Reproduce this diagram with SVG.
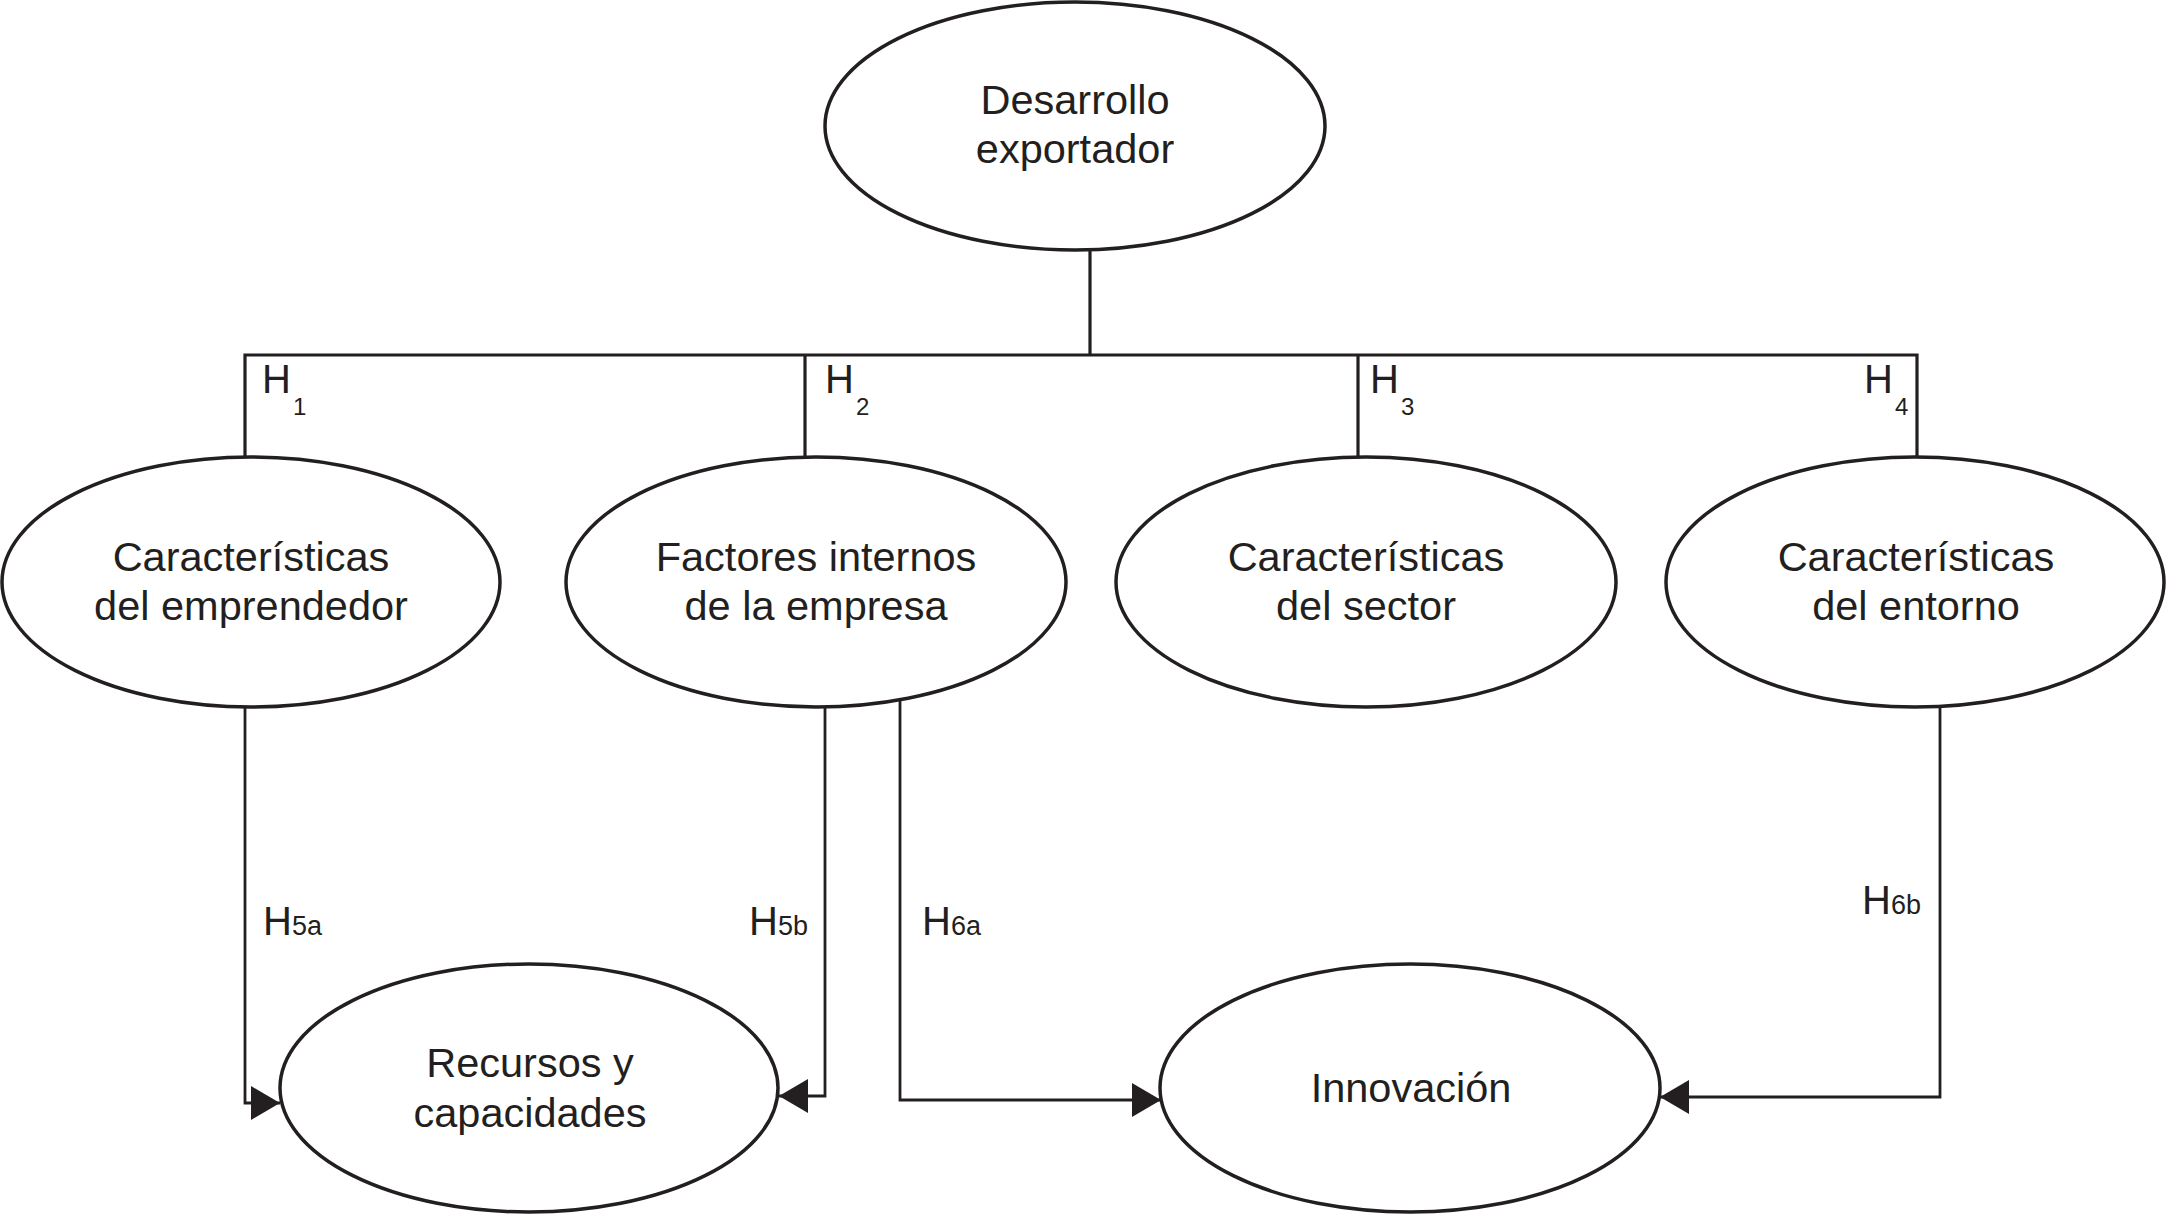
<svg xmlns="http://www.w3.org/2000/svg" width="2167" height="1215" viewBox="0 0 2167 1215">
  <style>
    .node ellipse { fill: #ffffff; stroke: #231f20; stroke-width: 3.5; }
    .node text { font-family: "Liberation Sans", Arial, Helvetica, sans-serif; font-size: 41.5px; fill: #231f20; text-anchor: middle; }
    .conn path { fill: none; stroke: #231f20; stroke-width: 3.2; }
    .conn path.arrow { stroke-width: 2.8; marker-end: url(#arrow); }
    .lbl { font-family: "Liberation Sans", Arial, Helvetica, sans-serif; font-size: 40px; fill: #231f20; }
  </style>
  <defs>
    <marker id="arrow" viewBox="0 0 29 34" refX="29" refY="17" markerWidth="29" markerHeight="34" markerUnits="userSpaceOnUse" orient="auto">
      <path d="M0,0 L29,17 L0,34 Z" fill="#231f20"/>
    </marker>
  </defs>
  <rect x="0" y="0" width="2167" height="1215" fill="#ffffff"/>

  <g id="connectors" class="conn">
    <path d="M1090,250 V355"/>
    <path d="M245,458 V355 H1917 V458"/>
    <path d="M805,355 V458"/>
    <path d="M1358,355 V458"/>
    <path class="arrow" d="M245,706 V1103 H280"/>
    <path class="arrow" d="M825,706 V1096 H779"/>
    <path class="arrow" d="M900,700 V1100 H1161"/>
    <path class="arrow" d="M1940,706 V1097 H1660"/>
  </g>

  <g id="labels">
    <text class="lbl" x="262" y="393">H<tspan dx="2" dy="22" font-size="24">1</tspan></text>
    <text class="lbl" x="825" y="393">H<tspan dx="2" dy="22" font-size="24">2</tspan></text>
    <text class="lbl" x="1370" y="393">H<tspan dx="2" dy="22" font-size="24">3</tspan></text>
    <text class="lbl" x="1864" y="393">H<tspan dx="2" dy="22" font-size="24">4</tspan></text>
    <text class="lbl" x="263" y="935">H<tspan font-size="27">5a</tspan></text>
    <text class="lbl" x="749" y="935">H<tspan font-size="27">5b</tspan></text>
    <text class="lbl" x="922" y="935">H<tspan font-size="27">6a</tspan></text>
    <text class="lbl" x="1862" y="914">H<tspan font-size="27">6b</tspan></text>
  </g>

  <g id="node-desarrollo" class="node">
    <ellipse cx="1075" cy="126" rx="250" ry="124"/>
    <text x="1075" y="114">Desarrollo</text>
    <text x="1075" y="163">exportador</text>
  </g>

  <g id="node-emprendedor" class="node">
    <ellipse cx="251" cy="582" rx="249" ry="125"/>
    <text x="251" y="571">Características</text>
    <text x="251" y="620">del emprendedor</text>
  </g>

  <g id="node-factores" class="node">
    <ellipse cx="816" cy="582" rx="250" ry="125"/>
    <text x="816" y="571">Factores internos</text>
    <text x="816" y="620">de la empresa</text>
  </g>

  <g id="node-sector" class="node">
    <ellipse cx="1366" cy="582" rx="250" ry="125"/>
    <text x="1366" y="571">Características</text>
    <text x="1366" y="620">del sector</text>
  </g>

  <g id="node-entorno" class="node">
    <ellipse cx="1915" cy="582" rx="249" ry="125"/>
    <text x="1916" y="571">Características</text>
    <text x="1916" y="620">del entorno</text>
  </g>

  <g id="node-recursos" class="node">
    <ellipse cx="529" cy="1088" rx="249" ry="124"/>
    <text x="530" y="1077">Recursos y</text>
    <text x="530" y="1127">capacidades</text>
  </g>

  <g id="node-innovacion" class="node">
    <ellipse cx="1410" cy="1088" rx="250" ry="124"/>
    <text x="1411" y="1102">Innovación</text>
  </g>
</svg>
